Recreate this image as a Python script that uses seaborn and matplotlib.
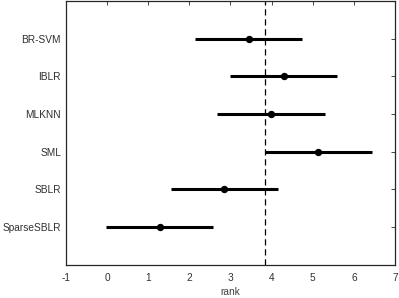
import matplotlib
matplotlib.use("Agg")
import matplotlib.pyplot as plt
import seaborn as sns
import pandas as pd

methods = ['BR-SVM', 'IBLR', 'MLKNN', 'SML', 'SBLR', 'SparseSBLR']
mean_rank = [3.44, 4.29, 3.99, 5.14, 2.85, 1.28]
lower = [2.15, 2.98, 2.68, 3.84, 1.55, -0.02]
upper = [4.73, 5.60, 5.30, 6.45, 4.16, 2.58]
ref_line = 3.84
xticks = [-1, 0, 1, 2, 3, 4, 5, 6, 7]

df = pd.DataFrame({'method': methods, 'rank': mean_rank,
                   'lo': lower, 'hi': upper, 'pos': range(1, len(methods) + 1)})

sns.set_style('white')
plt.rcParams['font.family'] = ['Liberation Sans', 'DejaVu Sans']

fig = plt.figure(figsize=(3.99, 2.98), dpi=100)
ax = fig.add_axes([0.165, 0.111, 0.825, 0.886])

ax.hlines(df['pos'], df['lo'], df['hi'], color='black', linewidth=2.2, zorder=2)
sns.scatterplot(data=df, x='rank', y='pos', color='black', s=28,
                edgecolor='black', linewidth=0, zorder=3, ax=ax)
ax.axvline(ref_line, color='black', linestyle=(0, (5, 3)), linewidth=0.9, zorder=1)

ax.set_xlim(-1, 7)
ax.set_ylim(7, 0)
ax.set_xticks(xticks)
ax.set_xticklabels([str(t) for t in xticks])
ax.set_yticks(df['pos'])
ax.set_yticklabels(methods)
ax.set_xlabel('rank', fontsize=7.3, color='#404040', labelpad=3)
ax.set_ylabel('')
ax.tick_params(direction='in', length=3, width=0.6, top=True, right=True,
               labelsize=7.3, labelcolor='#303030', color='#262626', pad=3.5)
ax.tick_params(axis='x', pad=6)
for s in ax.spines.values():
    s.set_visible(True)
    s.set_color('#262626')
    s.set_linewidth(0.9)

fig.savefig('out.png', dpi=100)
plt.close(fig)
